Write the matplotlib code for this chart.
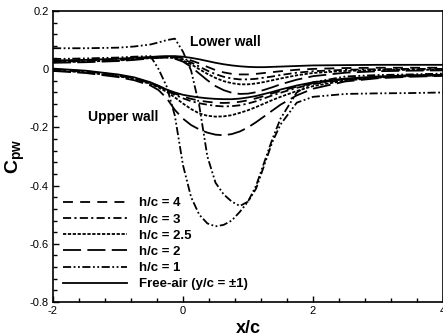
import matplotlib
matplotlib.use("Agg")
import matplotlib.pyplot as plt

plt.rcParams['font.family'] = ['Liberation Sans', 'DejaVu Sans']
plt.rcParams['axes.unicode_minus'] = False
plt.rcParams['mathtext.fontset'] = 'custom'
plt.rcParams['mathtext.rm'] = 'Liberation Sans:bold'
plt.rcParams['mathtext.bf'] = 'Liberation Sans:bold'

# Streamwise stations x/c
x = [-2, -1.5, -1, -0.75, -0.5, -0.375, -0.25, -0.125, 0, 0.125, 0.25, 0.375,
     0.5, 0.625, 0.75, 0.875, 1, 1.125, 1.25, 1.375, 1.5, 1.75, 2, 2.5, 3, 3.5, 4]

# Wall pressure coefficient, lower wall
lw_h4 = [0.028, 0.030, 0.034, 0.037, 0.040, 0.042, 0.043, 0.042, 0.038, 0.030, 0.020, 0.008,
         -0.003, -0.011, -0.016, -0.018, -0.018, -0.016, -0.013, -0.010, -0.007, -0.002, 0.001,
         0.004, 0.005, 0.005, 0.005]
lw_h3 = [0.026, 0.028, 0.032, 0.035, 0.039, 0.041, 0.042, 0.040, 0.034, 0.023, 0.009, -0.005,
         -0.017, -0.026, -0.032, -0.035, -0.035, -0.033, -0.029, -0.025, -0.020, -0.012, -0.007,
         -0.002, 0.000, 0.001, 0.001]
lw_h25 = [0.024, 0.026, 0.030, 0.034, 0.038, 0.040, 0.041, 0.038, 0.030, 0.017, 0.000, -0.016,
          -0.030, -0.041, -0.048, -0.052, -0.052, -0.049, -0.044, -0.038, -0.032, -0.021, -0.013,
          -0.006, -0.003, -0.002, -0.002]
lw_h2 = [0.022, 0.024, 0.028, 0.032, 0.037, 0.039, 0.040, 0.036, 0.026, 0.008, -0.015, -0.038,
         -0.058, -0.072, -0.081, -0.085, -0.084, -0.079, -0.071, -0.062, -0.052, -0.036, -0.024,
         -0.012, -0.007, -0.005, -0.004]
lw_h1 = [0.072, 0.072, 0.074, 0.078, 0.085, 0.092, 0.100, 0.105, 0.060, -0.005, -0.125, -0.300,
         -0.390, -0.430, -0.455, -0.470, -0.455, -0.410, -0.330, -0.250, -0.190, -0.115, -0.095,
         -0.085, -0.083, -0.082, -0.080]
lw_free = [0.030, 0.032, 0.036, 0.039, 0.042, 0.044, 0.045, 0.045, 0.043, 0.039, 0.034, 0.028,
           0.022, 0.017, 0.013, 0.010, 0.008, 0.007, 0.007, 0.008, 0.009, 0.011, 0.013, 0.014,
           0.015, 0.015, 0.015]

# Wall pressure coefficient, upper wall
uw_h4 = [0.000, -0.007, -0.020, -0.030, -0.047, -0.058, -0.072, -0.084, -0.094, -0.102, -0.108,
         -0.112, -0.115, -0.116, -0.115, -0.112, -0.107, -0.100, -0.092, -0.083, -0.075, -0.060,
         -0.048, -0.034, -0.026, -0.022, -0.020]
uw_h3 = [-0.002, -0.009, -0.022, -0.032, -0.049, -0.060, -0.074, -0.088, -0.100, -0.110, -0.117,
         -0.122, -0.126, -0.128, -0.127, -0.124, -0.118, -0.110, -0.100, -0.090, -0.081, -0.064,
         -0.051, -0.036, -0.027, -0.023, -0.021]
uw_h25 = [-0.004, -0.011, -0.024, -0.034, -0.051, -0.063, -0.078, -0.097, -0.118, -0.137, -0.152,
          -0.160, -0.163, -0.162, -0.158, -0.150, -0.141, -0.130, -0.118, -0.106, -0.095, -0.075,
          -0.058, -0.039, -0.029, -0.024, -0.021]
uw_h2 = [-0.006, -0.013, -0.027, -0.038, -0.056, -0.072, -0.100, -0.140, -0.170, -0.192, -0.207,
         -0.218, -0.225, -0.227, -0.223, -0.214, -0.200, -0.182, -0.162, -0.142, -0.122, -0.090,
         -0.067, -0.042, -0.031, -0.026, -0.023]
uw_h1 = [0.035, 0.037, 0.040, 0.043, 0.045, 0.000, -0.060, -0.160, -0.330, -0.440, -0.500, -0.530,
         -0.540, -0.535, -0.520, -0.490, -0.455, -0.400, -0.320, -0.240, -0.170, -0.080, -0.045,
         -0.025, -0.020, -0.018, -0.015]
uw_free = [0.002, -0.005, -0.018, -0.028, -0.045, -0.057, -0.070, -0.080, -0.088, -0.093, -0.097,
           -0.100, -0.102, -0.103, -0.103, -0.101, -0.097, -0.092, -0.085, -0.078, -0.070, -0.056,
           -0.045, -0.032, -0.025, -0.021, -0.019]

labels = ['h/c = 4', 'h/c = 3', 'h/c = 2.5', 'h/c = 2', 'h/c = 1', 'Free-air (y/c = \u00b11)']
lower = [lw_h4, lw_h3, lw_h25, lw_h2, lw_h1, lw_free]
upper = [uw_h4, uw_h3, uw_h25, uw_h2, uw_h1, uw_free]
styles = [(0, (5.5, 4)), (0, (4.5, 1.8, 1.2, 1.8)), (0, (1.8, 0.9)), (0, (10, 3.5)),
          (0, (4.5, 1.4, 1, 1.4, 1, 1.4)), '-']

fig = plt.figure(figsize=(4.43, 3.36), dpi=100)
ax = fig.add_axes([53 / 443, 1 - 302 / 336, 390 / 443, 291 / 336])

for lo, up, ls, lab in zip(lower, upper, styles, labels):
    ax.plot(x, lo, color='black', lw=1.3, linestyle=ls, label=lab)
    ax.plot(x, up, color='black', lw=1.3, linestyle=ls)

ax.set_xlim(-2, 4)
ax.set_ylim(-0.8, 0.2)
ax.set_xticks([-2, 0, 2, 4])
ax.set_xticklabels(['-2', '0', '2', '4'])
ax.set_yticks([-0.8, -0.6, -0.4, -0.2, 0, 0.2])
ax.set_yticklabels(['-0.8', '-0.6', '-0.4', '-0.2', '0', '0.2'])
ax.set_xticks([v / 10 for v in range(-20, 41, 4)], minor=True)
ax.set_yticks([v / 100 for v in range(-80, 21, 4)], minor=True)
ax.tick_params(which='both', direction='in', labelsize=8, width=1.0)
ax.tick_params(which='major', length=4, pad=3)
ax.tick_params(which='minor', length=3)
for s in ax.spines.values():
    s.set_linewidth(1.2)

ax.text(0.11, 0.093, 'Lower wall', fontsize=10, fontweight='bold', va='center', ha='left')
ax.text(-1.46, -0.165, 'Upper wall', fontsize=10, fontweight='bold', va='center', ha='left')

ax.set_xlabel('x/c', fontsize=13, fontweight='bold', labelpad=3)
ax.set_ylabel(r'$\mathbf{C}_{\mathbf{pw}}$', fontsize=14, labelpad=2)

leg = ax.legend(loc='lower left', bbox_to_anchor=(0.025, 0.04), frameon=False,
                prop={'weight': 'bold', 'size': 9.5}, handlelength=4.9, handletextpad=0.9,
                labelspacing=0.3, borderpad=0, borderaxespad=0)

fig.savefig('out.png', dpi=100)
